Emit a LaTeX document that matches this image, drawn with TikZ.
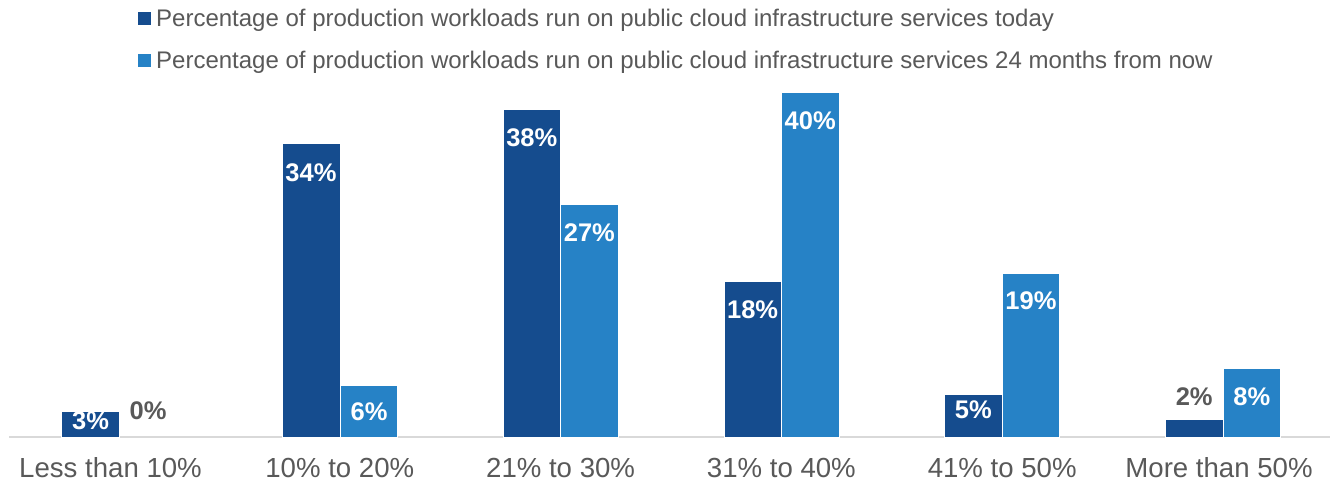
\documentclass[tikz,border=0pt]{standalone}
\usepackage{fontspec}
\setmainfont{Liberation Sans}
\definecolor{darkbar}{HTML}{154C8E}
\definecolor{lightbar}{HTML}{2682C6}
\definecolor{txtgrey}{HTML}{595959}
\definecolor{axisgrey}{HTML}{D9D9D9}
\tikzset{
  dbar/.style={fill=darkbar,draw=white,line width=0.6pt},
  lbar/.style={fill=lightbar,draw=white,line width=0.6pt},
  inlabel/.style={text=white,font=\fontsize{25.5}{25.5}\selectfont\bfseries,inner sep=0pt},
  outlabel/.style={text=txtgrey,font=\fontsize{25.5}{25.5}\selectfont\bfseries,inner sep=0pt},
  catlabel/.style={text=txtgrey,font=\fontsize{27.6}{27.6}\selectfont,inner sep=0pt,anchor=base},
  legtext/.style={text=txtgrey,font=\fontsize{24}{24}\selectfont,inner sep=0pt,anchor=base west},
}
\begin{document}
\begin{tikzpicture}[x=1pt,y=-1pt]
\useasboundingbox[fill=white] (0,0) rectangle (1330,482);
% axis
\draw[axisgrey,line width=2pt] (9,437) -- (1330,437);
% bars: centers 119 + 220.8 i, width 57.5
\foreach \c/\d/\l [count=\i] in {119/3/0, 339.8/34/6, 560.6/38/27, 781.4/18/40, 1002.2/5/19, 1223/2/8}{
  \path[dbar] (\c-57.5,437) rectangle (\c,437-8.625*\d);
  \ifnum\l>0
    \path[lbar] (\c,437) rectangle (\c+57.5,437-8.625*\l);
  \fi
}
% data labels
\node[inlabel]  (v1a) at (90.5,421) {3\%};
\node[outlabel] (v1b) at (148,411) {0\%};
\node[inlabel]  (v2a) at (311,172.5) {34\%};
\node[inlabel]  (v2b) at (369,412) {6\%};
\node[inlabel]  (v3a) at (531.8,138) {38\%};
\node[inlabel]  (v3b) at (589.4,233) {27\%};
\node[inlabel]  (v4a) at (752.6,310) {18\%};
\node[inlabel]  (v4b) at (810.2,121) {40\%};
\node[inlabel]  (v5a) at (973.4,410) {5\%};
\node[inlabel]  (v5b) at (1031,301) {19\%};
\node[outlabel] (v6a) at (1194.2,397) {2\%};
\node[inlabel]  (v6b) at (1251.8,397) {8\%};
% category labels
\node[catlabel] (c1) at (110.5,477) {Less than 10\%};
\node[catlabel] (c2) at (339.8,477) {10\% to 20\%};
\node[catlabel] (c3) at (560.6,477) {21\% to 30\%};
\node[catlabel] (c4) at (781.4,477) {31\% to 40\%};
\node[catlabel] (c5) at (1002.2,477) {41\% to 50\%};
\node[catlabel] (c6) at (1219,477) {More than 50\%};
% legend
\fill[darkbar] (138.3,11.7) rectangle (151,25);
\fill[lightbar] (138.3,54.3) rectangle (151,67.3);
\node[legtext] (l1) at (156,26) {Percentage of production workloads run on public cloud infrastructure services today};
\node[legtext] (l2) at (156,68.3) {Percentage of production workloads run on public cloud infrastructure services 24 months from now};
\end{tikzpicture}
\end{document}
